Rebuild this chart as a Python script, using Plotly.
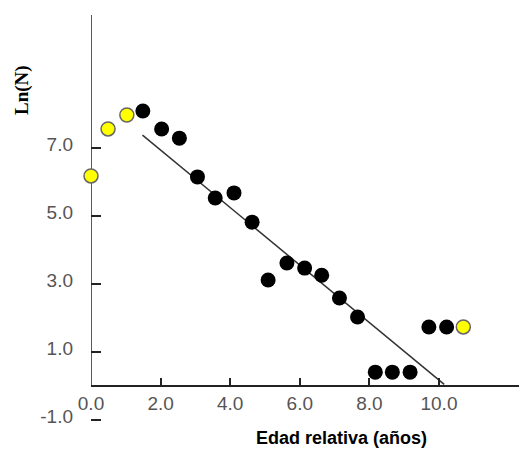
import plotly.graph_objects as go

# Data
yellow_x = [0.0, 0.49, 1.03, 10.70]
yellow_y = [6.18, 7.56, 7.97, 1.74]
black_x = [1.49, 2.03, 2.54, 3.06, 3.57, 4.11, 4.63, 5.09, 5.63, 6.14, 6.63, 7.14, 7.66,
           8.17, 8.66, 9.17, 9.71, 10.22]
black_y = [8.09, 7.56, 7.29, 6.15, 5.53, 5.68, 4.82, 3.12, 3.62, 3.47, 3.26, 2.59, 2.03,
           0.41, 0.41, 0.41, 1.74, 1.74]
fit_x = [1.48, 10.15]
fit_y = [7.38, 0.05]

x_ticks = [0, 2, 4, 6, 8, 10]
x_labels = ["0.0", "2.0", "4.0", "6.0", "8.0", "10.0"]
y_ticks = [-1, 1, 3, 5, 7]
y_labels = ["-1.0", "1.0", "3.0", "5.0", "7.0"]

x_range = [0, 12.3]
y_range = [-1.29, 10.91]

fig = go.Figure()
fig.add_trace(go.Scatter(x=fit_x, y=fit_y, mode="lines",
                         line=dict(color="#333333", width=1.5), showlegend=False))
fig.add_trace(go.Scatter(x=black_x, y=black_y, mode="markers",
                         marker=dict(color="black", size=15, line=dict(width=0)),
                         showlegend=False))
fig.add_trace(go.Scatter(x=yellow_x, y=yellow_y, mode="markers",
                         marker=dict(color="#ffff00", size=14, line=dict(color="#666666", width=1.5)),
                         showlegend=False, cliponaxis=False))

tick_font = dict(family="Liberation Sans", size=19, color="#555555")

fig.update_layout(
    width=523, height=451,
    margin=dict(l=91, r=4, t=15, b=21),
    plot_bgcolor="white", paper_bgcolor="white",
    xaxis=dict(range=x_range, tickvals=x_ticks, ticktext=x_labels,
               ticks="inside", ticklen=7, tickwidth=1.5, tickcolor="#222",
               showline=True, linecolor="#222", linewidth=1.5,
               showgrid=False, zeroline=False,
               anchor="free", position=(0 - y_range[0]) / (y_range[1] - y_range[0]),
               tickfont=tick_font),
    yaxis=dict(range=y_range, tickvals=y_ticks, ticktext=y_labels,
               ticks="inside", ticklen=10, tickwidth=1.5, tickcolor="#222",
               showline=False, showgrid=False, zeroline=False,
               ticklabelstandoff=17, ticklabelshift=-4,
               tickfont=tick_font),
    shapes=[dict(type="line", xref="x", yref="y domain", x0=0, x1=0,
                 y0=(0 - y_range[0]) / (y_range[1] - y_range[0]), y1=1,
                 line=dict(color="#222", width=1.5), layer="below")],
    annotations=[
        dict(text="<b>Ln(N)</b>", textangle=-90, x=22, y=90, xref="paper", yref="paper",
             showarrow=False, font=dict(family="Liberation Serif", size=19, color="black")),
        dict(text="<b>Edad relativa (años)</b>", x=341, y=438, xref="paper", yref="paper",
             showarrow=False, font=dict(family="Liberation Sans", size=18, color="black")),
    ],
)

# convert pixel positions for annotations into paper coords
pw = 523 - 91 - 4
ph = 451 - 15 - 21
for a in fig.layout.annotations:
    px, py = a.x, a.y
    a.x = (px - 91) / pw
    a.y = 1 - (py - 15) / ph
    a.xanchor = "center"
    a.yanchor = "middle"

fig.write_html("out.html")
